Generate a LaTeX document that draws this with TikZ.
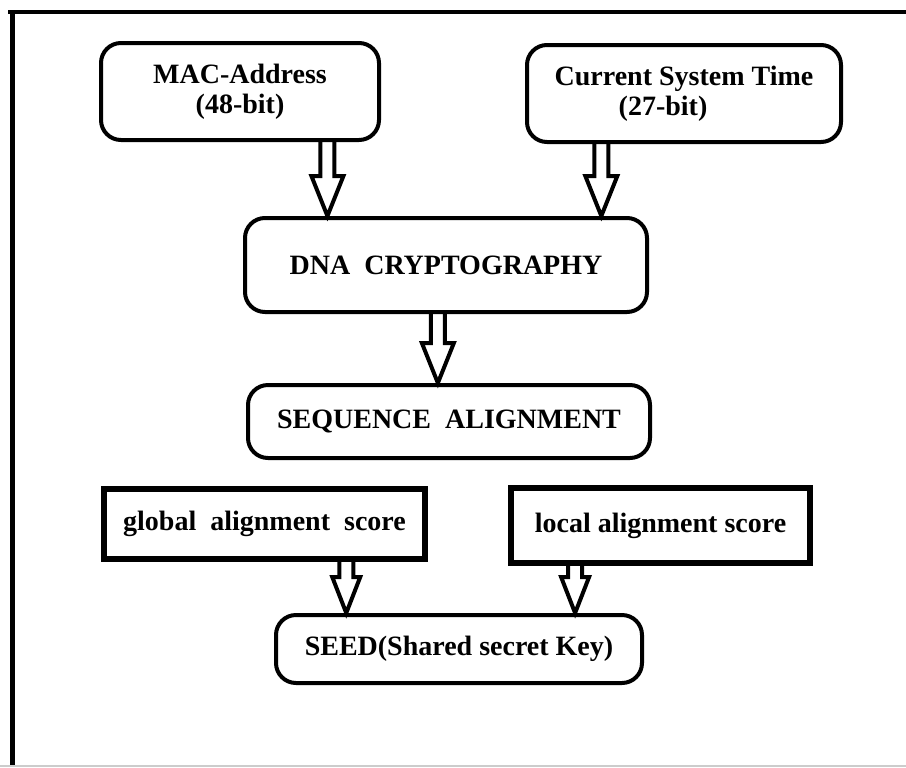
\documentclass[tikz,border=0pt]{standalone}
\usepackage{fontspec}
\setmainfont{Liberation Serif}
\usetikzlibrary{calc}

% hollow block arrow from a point on one box down to the top of the next
\newcommand{\flowarrow}[2]{%
\draw[line width=\arrline] let \p1=(#1), \p2=(#2) in
 (\x1-\shaftw,\y1) -- (\x1-\shaftw,\y2+\headl) -- (\x1-\headw,\y2+\headl) -- (\x1,\y2)
 -- (\x1+\headw,\y2+\headl) -- (\x1+\shaftw,\y2+\headl) -- (\x1+\shaftw,\y1);}

\begin{document}
\begin{tikzpicture}[x=0.5pt,y=-0.5pt]
\def\boxline{2pt}; %border of the rounded boxes
\def\rectline{3pt}; %border of the score boxes
\def\arrline{2pt}; %outline of the block arrows
\def\shaftw{3.5pt}; %half width of arrow shaft
\def\headw{8pt}; %half width of arrow head
\def\headl{20pt}; %length of arrow head

\tikzstyle{roundbox} = [rectangle, draw, rounded corners=10pt, line width=\boxline, align=center, inner sep=0pt, font=\bfseries\fontsize{14}{15}\selectfont]
\tikzstyle{scorebox} = [rectangle, draw, line width=\rectline, align=center, inner sep=0pt, font=\bfseries\fontsize{14}{15}\selectfont]

\useasboundingbox (0,0) rectangle (906,767);

% frame
\draw[line width=2pt] (8,12) -- (906,12);
\draw[line width=2.5pt] (12,10) -- (12,767);
\draw[gray!40, line width=0.6pt] (0,766) -- (906,766);

% inputs
\node[roundbox, minimum width=139pt, minimum height=48.5pt] (mac) at (240,91.5) {MAC-Address\\(48-bit)};
\node[roundbox, minimum width=157pt, minimum height=48.5pt] (cst) at (684,93.5) {Current System Time\\(27-bit)\hspace*{21pt}};

\node[roundbox, minimum width=201pt, minimum height=47pt] (dna) at (446,265) {DNA~~CRYPTOGRAPHY};
\node[roundbox, minimum width=201pt, minimum height=36.5pt] (seq) at (449,421.5) {SEQUENCE~~ALIGNMENT};

% scores
\node[scorebox, minimum width=160.5pt, minimum height=35pt] (glob) at (264.5,524) {global~~alignment~~score};
\node[scorebox, minimum width=149.5pt, minimum height=37.5pt] (loc) at (660.5,525.5) {local alignment score};

\node[roundbox, minimum width=183pt, minimum height=34pt] (seed) at (459,649) {SEED(Shared secret Key)};

\flowarrow{$(mac.south west)!0.81!(mac.south east)$}{dna.north}
\flowarrow{$(cst.south west)!0.24!(cst.south east)$}{dna.north}
\flowarrow{$(dna.south west)!0.48!(dna.south east)$}{seq.north}

\def\headw{7pt};
\def\headl{18pt};
\flowarrow{$(glob.south west)!0.75!(glob.south east)$}{seed.north}
\flowarrow{$(loc.south west)!0.22!(loc.south east)$}{seed.north}

\end{tikzpicture}
\end{document}
